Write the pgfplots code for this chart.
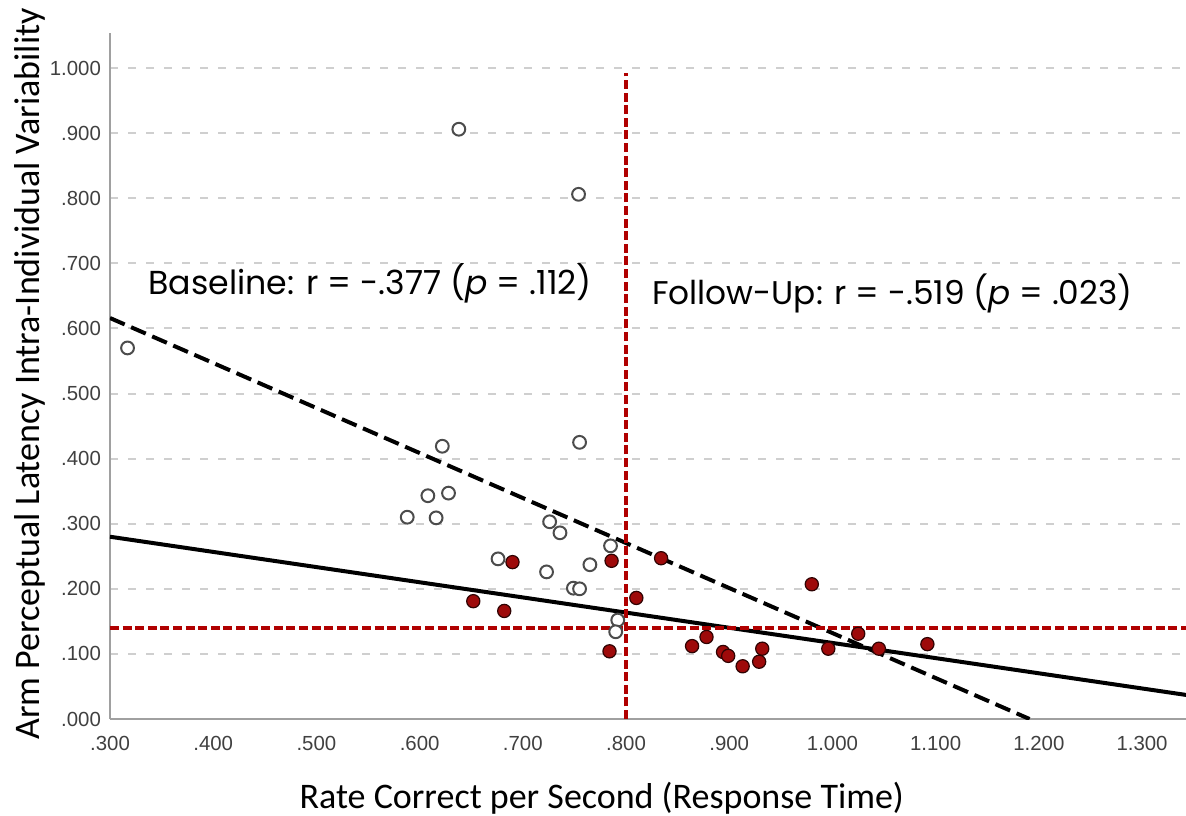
\documentclass[border=0pt]{standalone}
\usepackage{fontspec}
\setmainfont{Liberation Sans}
\newfontfamily\carlito{Carlito}
\newfontfamily\pop{Poppins}
\usepackage{pgfplots}
\pgfplotsset{compat=1.18}
\definecolor{dred}{HTML}{B00000}
\definecolor{mred}{HTML}{9E0A0A}
\definecolor{gridc}{HTML}{CFCFCF}
\definecolor{axc}{HTML}{A0A0A0}
\begin{document}
\begin{tikzpicture}
\useasboundingbox (-55pt,-48pt) rectangle (538pt,359.5pt);
\begin{axis}[
  at={(0,0)}, anchor=south west,
  scale only axis, width=538pt, height=343pt,
  xmin=0.3, xmax=1.3426, ymin=0, ymax=1.0538,
  axis x line*=bottom, axis y line*=left,
  axis line style={axc, line width=1pt},
  xtick={0.3,0.4,0.5,0.6,0.7,0.8,0.9,1.0,1.1,1.2,1.3},
  xticklabels={.300,.400,.500,.600,.700,.800,.900,1.000,1.100,1.200,1.300},
  ytick={0,0.1,0.2,0.3,0.4,0.5,0.6,0.7,0.8,0.9,1.0},
  yticklabels={.000,.100,.200,.300,.400,.500,.600,.700,.800,.900,1.000},
  major tick length=0pt,
  ymajorgrids,
  grid style={gridc, line width=1pt, dash pattern=on 4pt off 5pt},
  ticklabel style={font=\fontsize{10.2}{12}\selectfont, text=black!75},
  xticklabel style={yshift=-5pt},
  yticklabel style={xshift=-1pt},
  xlabel={Rate Correct per Second (Response Time)},
  xlabel style={font=\carlito\fontsize{18}{21}\selectfont, at={(axis description cs:0.457,0)}, anchor=center, yshift=-39.5pt},
  ylabel={Arm Perceptual Latency Intra-Individual Variability},
  ylabel style={font=\carlito\fontsize{18}{21}\selectfont, at={(axis description cs:0,0.503)}, anchor=center, yshift=40pt},
]
% regression lines
\addplot[black, line width=2pt, dash pattern=on 8pt off 3.5pt] coordinates {(0.3,0.616) (1.191,0)};
\addplot[black, line width=2pt] coordinates {(0.3,0.280) (1.3426,0.037)};
% reference lines
\addplot[dred, line width=1.7pt, dash pattern=on 4.5pt off 1.8pt] coordinates {(0.8,0) (0.8,0.992)};
\addplot[dred, line width=1.7pt, dash pattern=on 4.5pt off 1.8pt] coordinates {(0.3,0.140) (1.3426,0.140)};
% baseline (open)
\addplot[only marks, mark=*, mark size=3.2pt, mark options={fill=white, draw=black!70, line width=1pt}] coordinates {
(0.317,0.570) (0.638,0.906) (0.754,0.806) (0.755,0.425) (0.622,0.419)
(0.608,0.343) (0.628,0.347) (0.588,0.310) (0.616,0.309) (0.726,0.303)
(0.736,0.286) (0.785,0.266) (0.676,0.246) (0.723,0.226) (0.765,0.237)
(0.749,0.201) (0.755,0.200) (0.792,0.152) (0.790,0.134)};
% follow-up (filled)
\addplot[only marks, mark=*, mark size=3.3pt, mark options={fill=mred, draw=black!70!mred, line width=0.6pt}] coordinates {
(0.690,0.241) (0.652,0.181) (0.682,0.166) (0.786,0.243) (0.834,0.247)
(0.810,0.186) (0.784,0.104) (0.980,0.207) (0.864,0.112) (0.878,0.126)
(0.894,0.103) (0.899,0.097) (0.913,0.081) (0.929,0.088) (0.932,0.108)
(0.996,0.108) (1.025,0.131) (1.045,0.108) (1.092,0.115)};
\node[anchor=west, inner sep=0pt] at (axis cs:0.337,0.670) {\pop\fontsize{16.6}{19}\selectfont Baseline: r = -.377 (\textit{p} = .112)};
\node[anchor=west, inner sep=0pt] at (axis cs:0.825,0.653) {\pop\fontsize{16.4}{19}\selectfont Follow-Up: r = -.519 (\textit{p} = .023)};
\end{axis}
\end{tikzpicture}
\end{document}
